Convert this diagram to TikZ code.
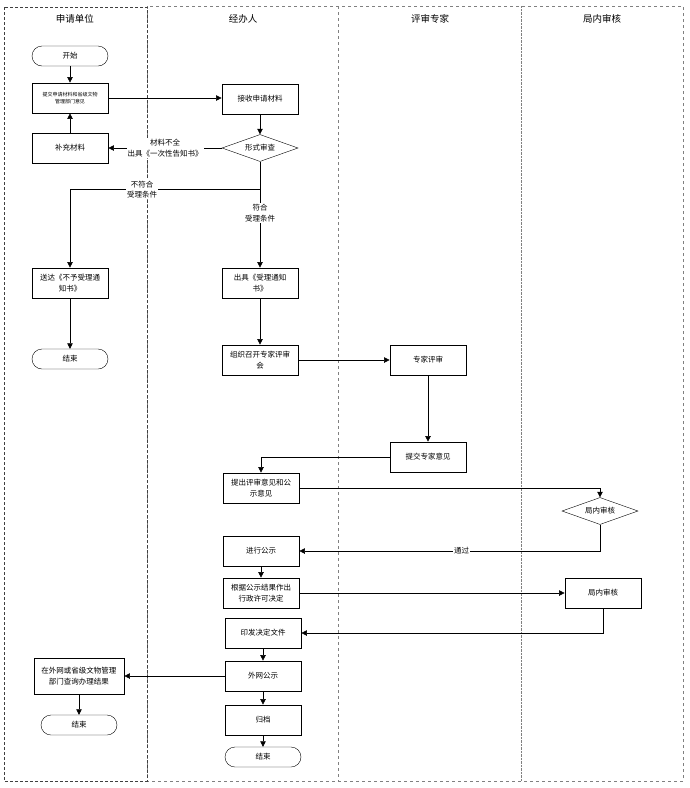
\documentclass[tikz,border=0pt]{standalone}
\usepackage{fontspec}
\setmainfont{Noto Sans CJK SC}
\usetikzlibrary{arrows.meta,shapes.geometric}

\begin{document}
\begin{tikzpicture}[x=1pt,y=-1pt,
    box/.style={draw, thick, rectangle, minimum width=76pt, minimum height=30pt, inner sep=1pt, align=center, font=\fontsize{7.5}{10.5}\selectfont},
    term/.style={draw, rectangle, rounded corners=10pt, minimum width=76pt, minimum height=20pt, inner sep=1pt, font=\fontsize{7.5}{9}\selectfont},
    check/.style={draw, diamond, aspect=2.8, minimum width=76pt, minimum height=27pt, inner sep=0pt, font=\fontsize{7.5}{9}\selectfont},
    note/.style={fill=white, inner sep=1pt, align=center, font=\fontsize{7.5}{10.5}\selectfont},
    arr/.style={-{Triangle[length=5.5pt,width=5.5pt]}, semithick},
    lane/.style={dashed, gray, thin},
    head/.style={font=\fontsize{9.5}{11}\selectfont}]
\useasboundingbox (0,0) rectangle (689,788);

% swimlanes
\draw[lane] (147,6) rectangle (683,781);
\draw[densely dashed, black!75, thin] (4,7) rectangle (147,781);
\draw[lane] (338,6) -- (338,781);
\draw[densely dotted, gray, thin] (521,6) -- (521,781);
\node[head] (h1) at (75,19) {申请单位};
\node[head] (h2) at (243,19) {经办人};
\node[head] (h3) at (430,19) {评审专家};
\node[head] (h4) at (602,19) {局内审核};

% applicant
\node[term] (start) at (70,56) {开始};
\node[box, font=\fontsize{5}{7}\selectfont] (submit) at (70,98) {提交申请材料和省级文物\\管理部门意见};
\node[box] (supplement) at (70,148) {补充材料};
\node[box] (reject) at (70,283) {送达《不予受理通\\知书》};
\node[term] (end1) at (70,359) {结束};
\node[box, minimum width=90pt, minimum height=36pt] (query) at (79,676) {在外网或省级文物管理\\部门查询办理结果};
\node[term] (end2) at (79,725) {结束};

% handler
\node[box] (receive) at (260,99) {接收申请材料};
\node[check] (formal) at (260,148) {形式审查};
\node[box] (accept) at (260,283) {出具《受理通知\\书》};
\node[box] (organize) at (260,360) {组织召开专家评审\\会};
\node[box] (propose) at (261,488) {提出评审意见和公\\示意见};
\node[box] (publicize) at (261,551) {进行公示};
\node[box] (decide) at (261,593) {根据公示结果作出\\行政许可决定};
\node[box] (issue) at (263,633) {印发决定文件};
\node[box] (online) at (263,676) {外网公示};
\node[box] (archive) at (263,720) {归档};
\node[term] (end3) at (263,757) {结束};

% experts
\node[box] (review) at (428,360) {专家评审};
\node[box] (opinion) at (428,457) {提交专家意见};

% bureau
\node[check] (audit) at (600,511) {局内审核};
\node[box] (approve) at (603,593) {局内审核};

% connectors
\draw[arr] (start) -- (submit);
\draw[arr] (supplement) -- (submit);
\draw[arr] (submit.east) -- (submit.east -| receive.west);
\draw[arr] (receive) -- (formal);
\draw[arr] (formal.west) -- node[note] {材料不全\\出具《一次性告知书》} (supplement.east);
\draw (formal.south) -- ++(0,28) coordinate (fork);
\draw[arr] (fork) -| node[note, pos=0.31] {不符合\\受理条件} (reject);
\draw[arr] (fork) -- node[note, pos=0.3] {符合\\受理条件} (accept);
\draw[arr] (reject) -- (end1);
\draw[arr] (accept) -- (organize);
\draw[arr] (organize) -- (review);
\draw[arr] (review) -- (opinion);
\draw[arr] (opinion.west) -| (propose);
\draw[arr] (propose.east) -| (audit);
\draw[arr] (audit.south) |- node[note, pos=0.73] {通过} (publicize.east);
\draw[arr] (publicize) -- (decide);
\draw[arr] (decide) -- (approve);
\draw[arr] (approve.south) |- (issue.east);
\draw[arr] (issue) -- (online);
\draw[arr] (online) -- (query);
\draw[arr] (query) -- (end2);
\draw[arr] (online) -- (archive);
\draw[arr] (archive) -- (end3);
\end{tikzpicture}
\end{document}
